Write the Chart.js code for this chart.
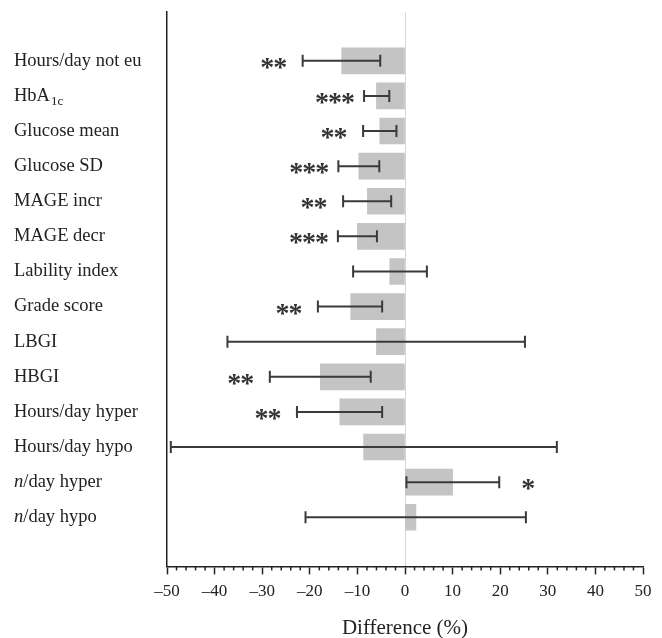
<!DOCTYPE html>
<html>
<head>
<meta charset="utf-8">
<script src="https://cdn.jsdelivr.net/npm/chart.js@4"></script>
<style>
  html, body { margin: 0; padding: 0; background: #fff; }
  #wrap { width: 662px; height: 638px; }
</style>
</head>
<body>
<div id="wrap"><canvas id="diff_chart"></canvas></div>
<script>
// row labels, top to bottom (HbA1c and n/day get special drawing below)
const labels = ['Hours/day not eu', 'HbA1c', 'Glucose mean', 'Glucose SD', 'MAGE incr', 'MAGE decr',
  'Lability index', 'Grade score', 'LBGI', 'HBGI', 'Hours/day hyper', 'Hours/day hypo',
  'n/day hyper', 'n/day hypo'];
// difference (%) and its interval
const diffs = [-13.3, -6.0, -5.3, -9.7, -7.9, -10.0, -3.2, -11.4, -6.0, -17.8, -13.7, -8.7, 10.0, 2.3];
const ciLow = [-21.5, -8.6, -8.8, -14.0, -13.0, -14.1, -10.9, -18.3, -37.3, -28.4, -22.7, -49.2, 0.3, -20.9];
const ciHigh = [-5.2, -3.3, -1.8, -5.4, -2.9, -5.9, 4.6, -4.8, 25.2, -7.2, -4.8, 31.9, 19.8, 25.4];
const stars = ['**', '***', '**', '***', '**', '***', '', '**', '', '**', '**', '', '*', ''];
// x axis range
const xMin = -50, xMax = 50;

const serif = '"Liberation Serif", "DejaVu Serif", serif';

// 행 라벨 (아래첨자, 이탤릭 처리)
const rowLabels = {
  id: 'rowLabels',
  afterDraw(chart) {
    const { ctx, scales: { y } } = chart;
    ctx.save();
    ctx.fillStyle = '#222';
    ctx.textBaseline = 'middle';
    ctx.textAlign = 'left';
    labels.forEach((lab, i) => {
      const yp = y.getPixelForValue(i);
      let xp = 14;
      if (lab === 'HbA1c') {
        ctx.font = '18.5px ' + serif;
        ctx.fillText('HbA', xp, yp);
        xp += ctx.measureText('HbA').width;
        ctx.font = '13px ' + serif;
        ctx.fillText('1c', xp + 1, yp + 6);
      } else if (lab.startsWith('n/')) {
        ctx.font = 'italic 18.5px ' + serif;
        ctx.fillText('n', xp, yp);
        xp += ctx.measureText('n').width;
        ctx.font = '18.5px ' + serif;
        ctx.fillText(lab.slice(1), xp, yp);
      } else {
        ctx.font = '18.5px ' + serif;
        ctx.fillText(lab, xp, yp);
      }
    });
    ctx.restore();
  }
};

// 오차 막대 + 유의성 별표 + 보조 눈금
const errorBars = {
  id: 'errorBars',
  afterDatasetsDraw(chart) {
    const { ctx, scales: { x, y }, chartArea } = chart;
    ctx.save();
    ctx.strokeStyle = '#3a3a3a';
    ctx.lineWidth = 2;
    ciLow.forEach((lo, i) => {
      const yp = y.getPixelForValue(i);
      const x1 = x.getPixelForValue(lo);
      const x2 = x.getPixelForValue(ciHigh[i]);
      ctx.beginPath();
      ctx.moveTo(x1, yp); ctx.lineTo(x2, yp);
      ctx.moveTo(x1, yp - 6); ctx.lineTo(x1, yp + 6);
      ctx.moveTo(x2, yp - 6); ctx.lineTo(x2, yp + 6);
      ctx.stroke();
      if (stars[i]) {
        ctx.fillStyle = '#333';
        ctx.font = 'bold 28px ' + serif;
        ctx.textAlign = 'center';
        ctx.textBaseline = 'alphabetic';
        const n = stars[i].length;
        const cx = diffs[i] < 0 ? x1 - 29 : x2 + 29;
        for (let k = 0; k < n; k++) {
          ctx.fillText('*', cx + (k - (n - 1) / 2) * 13, yp + 15);
        }
      }
    });
    // minor ticks
    ctx.strokeStyle = '#222';
    ctx.lineWidth = 1.5;
    x.ticks.forEach(t => {
      if (t.value % 10 !== 0) {
        const xp = x.getPixelForValue(t.value);
        ctx.beginPath();
        ctx.moveTo(xp, chartArea.bottom);
        ctx.lineTo(xp, chartArea.bottom + 4);
        ctx.stroke();
      }
    });
    ctx.restore();
  }
};

const ctx = document.getElementById('diff_chart').getContext('2d');
new Chart(ctx, {
  type: 'bar',
  data: {
    datasets: [{
      data: diffs.map((v, i) => ({ x: v, y: i })),
      backgroundColor: '#c4c4c4',
      borderWidth: 0,
      barThickness: 26
    }]
  },
  options: {
    indexAxis: 'y',
    responsive: true,
    maintainAspectRatio: false,
    animation: false,
    layout: { padding: { top: 12, left: 167, right: 19, bottom: 0 } },
    plugins: { legend: { display: false }, tooltip: { enabled: false } },
    scales: {
      y: {
        type: 'linear',
        reverse: true,
        offset: false,
        min: -1.39,
        max: 14.4,
        ticks: { display: false },
        grid: { display: false, drawTicks: false },
        border: { display: true, color: '#222', width: 1.5 }
      },
      x: {
        type: 'linear',
        min: xMin,
        max: xMax,
        ticks: {
          stepSize: 2,
          autoSkip: false,
          maxRotation: 0,
          padding: 7,
          color: '#222',
          font: { family: serif, size: 17 },
          callback: v => v % 10 === 0 ? (v < 0 ? '\u2013' + Math.abs(v) : String(v)) : ''
        },
        grid: {
          drawOnChartArea: true,
          tickLength: 8,
          color: c => c.tick && c.tick.value === 0 ? '#d6d6d6' : 'rgba(0,0,0,0)',
          tickColor: c => c.tick && c.tick.value % 10 === 0 ? '#222' : 'rgba(0,0,0,0)',
          tickWidth: 1.5
        },
        border: { display: true, color: '#222', width: 1.5 },
        title: {
          display: true,
          text: 'Difference (%)',
          color: '#222',
          font: { family: serif, size: 21 },
          padding: { top: 7, bottom: -3 }
        }
      }
    }
  },
  plugins: [rowLabels, errorBars]
});
</script>
</body>
</html>
